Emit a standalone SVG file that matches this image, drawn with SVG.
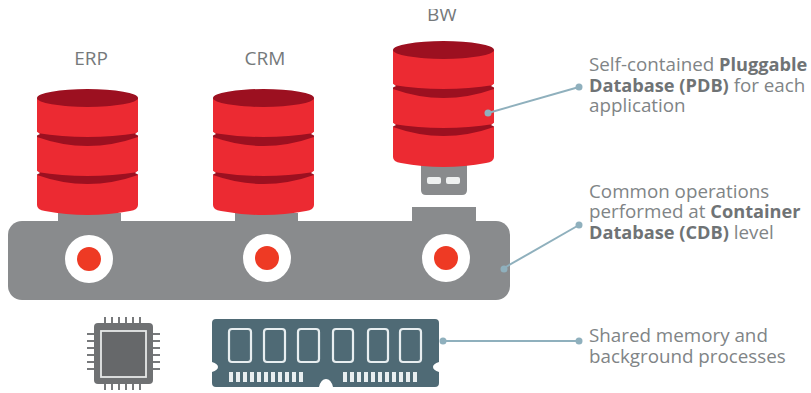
<svg xmlns="http://www.w3.org/2000/svg" xmlns:xlink="http://www.w3.org/1999/xlink" width="811" height="393" viewBox="0 0 811 393">
<style>
text{font-family:"Open Sans","Liberation Sans",sans-serif;fill:#808486}
.t{font-size:18.800px}
.n{font-size:19px;text-anchor:middle;fill:#75797b}
.b{font-weight:700;fill:#6f7375;font-size:18.200px}
.red{fill:#ec2a32}
.dark{fill:#9c1020}
.gray{fill:#898b8d}
.conn{stroke:#8fb0bd;stroke-width:2;fill:none}
.dot{fill:#8fb0bd}
.slot{fill:none;stroke:#e8eef0;stroke-width:2.2}
.pad{fill:#e8eef0}
.pin{stroke:#77797b;stroke-width:2;fill:none}
</style>
<defs>
<g id="cyl">
<path class="red" d="M0 9V116Q0 121 8 122Q50.500 130 93 122Q101 121 101 116V9Z"/>
<ellipse class="dark" cx="50.500" cy="9" rx="50.500" ry="9"/>
<path class="dark" d="M0 44Q50.500 52 101 44V48Q50.500 66 0 48Z"/>
<path class="dark" d="M0 83Q50.500 91 101 83V86Q50.500 104 0 86Z"/>
<path fill="#fff" d="M-1 42L3 45L-1 47Z M102 42L98 45L102 47Z M-1 81L3 84L-1 86Z M102 81L98 84L102 86Z"/>
</g>
<clipPath id="topcut"><rect x="400" y="9" width="90" height="30"/></clipPath>
</defs>
<rect width="811" height="393" fill="#fff"/>

<g id="platform">
<rect class="gray" x="58" y="213" width="63" height="12"/>
<rect class="gray" x="235" y="213" width="63" height="12"/>
<rect class="gray" x="412" y="207" width="64" height="18"/>
<rect class="gray" x="8" y="221" width="502" height="79" rx="14"/>
<circle cx="89" cy="259" r="24" fill="#fff"/><circle cx="89" cy="259" r="12" fill="#ee3a24"/>
<circle cx="267" cy="258" r="24" fill="#fff"/><circle cx="267" cy="258" r="12" fill="#ee3a24"/>
<circle cx="446" cy="258" r="24" fill="#fff"/><circle cx="446" cy="258" r="12" fill="#ee3a24"/>
</g>

<g id="erp">
<text class="n" x="91" y="65">ERP</text>
<use xlink:href="#cyl" href="#cyl" x="37" y="89"/>
</g>
<g id="crm">
<text class="n" x="265" y="65">CRM</text>
<use xlink:href="#cyl" href="#cyl" x="213" y="89"/>
</g>
<g id="bw">
<text class="n" x="442" y="21" clip-path="url(#topcut)">BW</text>
<path class="gray" d="M421 160H467V190Q467 195 462 195H426Q421 195 421 190Z"/>
<rect x="427" y="177" width="14" height="7" rx="2" fill="#eef0f0"/>
<rect x="446" y="177" width="14" height="7" rx="2" fill="#eef0f0"/>
<use xlink:href="#cyl" href="#cyl" x="393" y="41"/>
</g>

<g id="cpu">
<path class="pin" d="M105 317v6M112 317v6M119 317v6M126 317v6M133 317v6M140 317v6M105 384v6M112 384v6M119 384v6M126 384v6M133 384v6M140 384v6M87 334h7M87 341h7M87 348h7M87 355h7M87 362h7M87 369h7M153 334h7M153 341h7M153 348h7M153 355h7M153 362h7M153 369h7"/>
<rect x="94" y="323" width="59" height="61" rx="4" fill="#6f7173"/>
<rect x="101" y="331" width="45" height="46" fill="#66686a" stroke="#e6e8e8" stroke-width="1.800"/>
</g>

<g id="ram">
<path fill="#4f6a75" d="M216 319H435Q439 319 439 323V362Q433 364 433 367Q433 370 439 372V383Q439 387 435 387H333Q331 379 326 379Q321 379 319 387H216Q212 387 212 383V372Q218 370 218 367Q218 364 212 362V323Q212 319 216 319Z"/>
<rect class="slot" x="229" y="329" width="22" height="33" rx="3"/>
<rect class="slot" x="264" y="329" width="21" height="33" rx="3"/>
<rect class="slot" x="298" y="329" width="21" height="33" rx="3"/>
<rect class="slot" x="333" y="329" width="20" height="33" rx="3"/>
<rect class="slot" x="368" y="329" width="20" height="33" rx="3"/>
<rect class="slot" x="400" y="329" width="21" height="33" rx="3"/>
<path class="pad" d="M229 372h4v10h-4zM236 372h4v10h-4zM243 372h4v10h-4zM250 372h4v10h-4zM257 372h4v10h-4zM264 372h4v10h-4zM271 372h4v10h-4zM278 372h4v10h-4zM285 372h4v10h-4zM292 372h4v10h-4zM299 372h4v10h-4zM343 372h4v10h-4zM350 372h4v10h-4zM357 372h4v10h-4zM364 372h4v10h-4zM371 372h4v10h-4zM378 372h4v10h-4zM385 372h4v10h-4zM392 372h4v10h-4zM399 372h4v10h-4zM406 372h4v10h-4zM413 372h4v10h-4z"/>
</g>

<g id="connectors">
<path class="conn" d="M488 113L579 87"/>
<path class="conn" d="M504 268L579 225"/>
<path class="conn" d="M443 341L579 341"/>
<circle class="dot" cx="488" cy="113" r="3.500"/><circle class="dot" cx="579" cy="87" r="3.500"/>
<circle class="dot" cx="504" cy="269" r="3.500"/><circle class="dot" cx="579" cy="225" r="3.500"/>
<circle class="dot" cx="443" cy="341" r="3.500"/><circle class="dot" cx="579" cy="341" r="3.500"/>
</g>

<g id="label-pdb">
<text class="t" x="589" y="71">Self-contained <tspan class="b">Pluggable</tspan></text>
<text class="t" x="589" y="92"><tspan class="b">Database (PDB)</tspan> for each</text>
<text class="t" x="589" y="112">application</text>
</g>
<g id="label-cdb">
<text class="t" x="589" y="198">Common operations</text>
<text class="t" x="589" y="218">performed at <tspan class="b">Container</tspan></text>
<text class="t" x="589" y="239"><tspan class="b">Database (CDB)</tspan> level</text>
</g>
<g id="label-mem">
<text class="t" x="589" y="342">Shared memory and</text>
<text class="t" x="589" y="363">background processes</text>
</g>
</svg>
